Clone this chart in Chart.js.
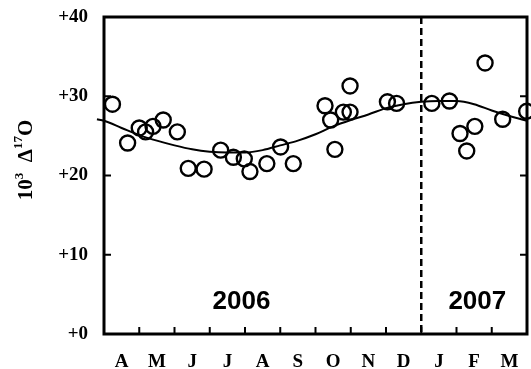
<!DOCTYPE html>
<html>
<head>
<meta charset="utf-8">
<script src="https://cdn.jsdelivr.net/npm/chart.js@4.4.1/dist/chart.umd.min.js"></script>
<style>
html,body{margin:0;padding:0;background:#fff;}
#wrap{width:531px;height:369px;position:relative;}
</style>
</head>
<body>
<div id="wrap"><canvas id="c"></canvas></div>
<script>
// Month labels (April 2006 .. March 2007); x values are months since 1 April 2006
const months = ['A','M','J','J','A','S','O','N','D','J','F','M'];
const yTickValues = [0, 10, 20, 30, 40];

// Observations
const obsMonth = [0.24,0.67,1.00,1.18,1.39,1.68,2.08,2.39,2.84,3.31,3.67,3.98,4.14,4.62,5.01,5.37,
                  6.27,6.43,6.55,6.79,6.98,6.98,8.04,8.30,9.30,9.80,10.10,10.29,10.52,10.81,11.31,11.99];
const obsValue = [29.0,24.1,26.0,25.5,26.2,27.0,25.5,20.9,20.8,23.2,22.3,22.1,20.5,21.5,23.6,21.5,
                  28.8,27.0,23.3,28.0,28.0,31.3,29.3,29.1,29.1,29.4,25.3,23.1,26.2,34.2,27.1,28.1];

// Fitted seasonal curve
const fitMonth = [-0.2,0,0.5,1,1.5,2,2.5,3,3.5,4,4.5,5,5.5,6,6.5,7,7.5,8,8.5,9,9.5,10,10.5,11,11.5,12,12.2];
const fitValue = [27.1,26.9,26.0,25.1,24.4,23.8,23.3,23.0,22.9,22.9,23.2,23.8,24.4,25.2,26.2,27.0,27.7,28.5,29.0,29.3,29.4,29.4,29.0,28.2,27.5,26.9,26.6];

// Year boundary and year labels
const yearBoundary = 9;
const yearLabels = [{text:'2006', x:3.9, y:4.1},{text:'2007', x:10.59, y:4.1}];

const serif = "'Liberation Serif','Times New Roman',serif";

function zeroPad(s){ s.paddingLeft = 0; s.paddingRight = 0; s.paddingTop = 0; s.paddingBottom = 0; }

const framePlugin = {
  id:'frame',
  afterDatasetsDraw(chart){
    const {ctx, chartArea:a, scales} = chart;
    const xs = scales.x, ys = scales.y;
    ctx.save();
    ctx.strokeStyle = '#000';
    ctx.lineWidth = 3;
    ctx.strokeRect(a.left, a.top, a.right - a.left, a.bottom - a.top);
    ctx.lineWidth = 2;
    ctx.beginPath();
    for (let i = 1; i < months.length; i++) {
      const px = xs.getPixelForValue(i);
      ctx.moveTo(px, a.bottom); ctx.lineTo(px, a.bottom - 7);
    }
    yTickValues.forEach(v => {
      if (v === 0 || v === 40) return;
      const py = ys.getPixelForValue(v);
      ctx.moveTo(a.left, py); ctx.lineTo(a.left + 7, py);
      ctx.moveTo(a.right, py); ctx.lineTo(a.right - 7, py);
    });
    ctx.stroke();
    // year labels
    ctx.fillStyle = '#000';
    ctx.font = "bold 26px 'Liberation Sans', Arial, sans-serif";
    ctx.textAlign = 'center';
    ctx.textBaseline = 'middle';
    yearLabels.forEach(l => {
      ctx.fillText(l.text, xs.getPixelForValue(l.x), ys.getPixelForValue(l.y));
    });
    // axis title: 10^3 Δ^17O (rotated)
    const parts = [
      {t:'10', f:"bold 21px " + serif, r:0},
      {t:'3', f:"bold 13px " + serif, r:9},
      {t:'  ', f:"bold 21px " + serif, r:0},
      {t:'\u0394', f:"bold 21px " + serif, r:0},
      {t:'17', f:"bold 13px " + serif, r:10},
      {t:'O', f:"bold 21px " + serif, r:0}
    ];
    let total = 0;
    parts.forEach(p => { ctx.font = p.f; p.w = ctx.measureText(p.t).width; total += p.w; });
    ctx.translate(32, 160);
    ctx.rotate(-Math.PI/2);
    ctx.textAlign = 'left';
    ctx.textBaseline = 'alphabetic';
    let cx = -total/2;
    parts.forEach(p => { ctx.font = p.f; ctx.fillText(p.t, cx, -p.r); cx += p.w; });
    ctx.restore();
  }
};

new Chart(document.getElementById('c'), {
  type:'scatter',
  data:{
    datasets:[
      {
        type:'scatter',
        data: obsMonth.map((m,i)=>({x:m, y:obsValue[i]})),
        pointStyle:'circle',
        pointRadius:7.5,
        pointHoverRadius:7.5,
        pointBorderWidth:2.4,
        pointBackgroundColor:'rgba(0,0,0,0)',
        pointBorderColor:'#000',
        clip:false,
        xAxisID:'x', yAxisID:'y'
      },
      {
        type:'line',
        data: fitMonth.map((m,i)=>({x:m, y:fitValue[i]})),
        borderColor:'#000',
        borderWidth:2,
        pointRadius:0,
        tension:0.4,
        cubicInterpolationMode:'monotone',
        fill:false,
        clip:false,
        xAxisID:'x', yAxisID:'y'
      },
      {
        type:'line',
        data:[{x:yearBoundary, y:40},{x:yearBoundary, y:0}],
        borderColor:'#000',
        borderWidth:2.5,
        borderDash:[7,4],
        pointRadius:0,
        fill:false,
        xAxisID:'x', yAxisID:'y'
      }
    ]
  },
  options:{
    responsive:true,
    maintainAspectRatio:false,
    devicePixelRatio:1,
    animation:false,
    events:[],
    layout:{autoPadding:false, padding:{top:17, right:4, left:0, bottom:0}},
    plugins:{legend:{display:false}, tooltip:{enabled:false}},
    scales:{
      x:{type:'linear', min:0, max:12, display:false, ticks:{display:false},
         afterFit(s){ zeroPad(s); }},
      xm:{
        type:'category', position:'bottom', labels:months, offset:true,
        grid:{display:false, drawTicks:false}, border:{display:false},
        ticks:{autoSkip:false, maxRotation:0, padding:17, color:'#000',
               font:{family:serif, size:19, weight:'bold'}},
        afterFit(s){ s.height = 35; zeroPad(s); }
      },
      y:{
        type:'linear', min:0, max:40, position:'left',
        afterBuildTicks(s){ s.ticks = yTickValues.map(v=>({value:v})); },
        grid:{display:false, drawTicks:false}, border:{display:false},
        ticks:{padding:16, color:'#000', callback:v=>'+'+v,
               font:{family:serif, size:19, weight:'bold'}},
        afterFit(s){ s.width = 104; zeroPad(s); }
      }
    }
  },
  plugins:[framePlugin]
});
</script>
</body>
</html>
